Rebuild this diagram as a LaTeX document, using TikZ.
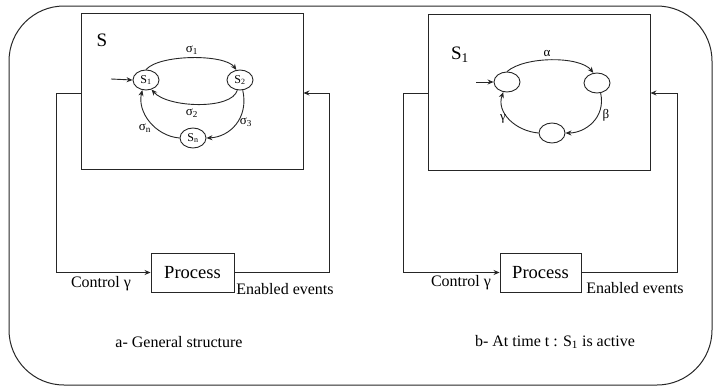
\documentclass[tikz,border=0pt]{standalone}
\usepackage{fontspec}
\setmainfont{Liberation Serif}
\usetikzlibrary{arrows.meta,shapes.geometric}
\begin{document}
\begin{tikzpicture}[x=1pt,y=-1pt,
  ln/.style={line width=0.9pt,draw=black!85},
  arr/.style={ln,-{Stealth[length=6pt,width=5pt]}},
  frame/.style={draw=black!85,line width=0.9pt,inner sep=0pt},
  st/.style={ellipse,draw=black!85,line width=0.9pt,minimum width=26pt,minimum height=20pt,inner sep=0pt,font=\fontsize{12}{12}\selectfont},
  lab/.style={inner sep=0pt,font=\fontsize{13}{13}\selectfont},
  txt/.style={inner sep=0pt,font=\fontsize{16}{16}\selectfont},
  big/.style={inner sep=0pt,font=\fontsize{19}{19}\selectfont},
  procbox/.style={frame,minimum height=39pt,font=\fontsize{18.5}{18.5}\selectfont}]
\useasboundingbox (0,0) rectangle (714,388);
\draw[line width=1pt,draw=black!85,rounded corners=55pt] (9,6) rectangle (712,385);

% ---------- left part ----------
\node[frame,minimum width=222pt,minimum height=156pt] (box1) at (192,91) {};
\node[big] (Slab) at (102,40) {S};
\node[st] (s1) at (146,80) {S\textsubscript{1}};
\node[st] (s2) at (240,80) {S\textsubscript{2}};
\node[st] (sn) at (193,138) {S\textsubscript{n}};
\coordinate (i1) at (111,79);
\draw[arr] (i1) -- (s1.west);
\draw[arr] (s1.north) .. controls (160,54) and (225,54) .. (s2.110);
\draw[arr] (s2.255) .. controls (232,110) and (168,108) .. (s1.300);
\draw[arr] (s2.285) .. controls (249,118) and (230,137) .. (sn.east);
\draw[arr] (sn.west) .. controls (155,136) and (137,112) .. (s1.250);
\node[lab] (l1) at (192,50) {σ\textsubscript{1}};
\node[lab] (l2) at (192,113) {σ\textsubscript{2}};
\node[lab] (l3) at (246,122) {σ\textsubscript{3}};
\node[lab] (ln) at (145,128) {σ\textsubscript{n}};

\node[procbox,minimum width=83pt] (p1) at (192.5,272.5) {Process};
\coordinate (c1) at (56,93);
\coordinate (e1) at (329,93);
\draw[ln] (box1.west |- c1) -- (c1);
\draw[arr] (c1) |- (p1.west);
\draw[arr] (p1.east) -| (e1) -- (box1.east |- e1);
\node[txt] (ctl1) at (101,284) {Control γ};
\node[txt] (en1) at (285,289) {Enabled events};
\node[txt] (capa) at (179,342) {a- General structure};

% ---------- right part ----------
\node[frame,minimum width=222pt,minimum height=156pt] (box2) at (539,92) {};
\node[big] (S1lab) at (460,55) {S\textsubscript{1}};
\node[st] (a) at (507,82) {};
\node[st] (b) at (597,83) {};
\node[st] (c) at (552,133) {};
\coordinate (i2) at (476,82);
\draw[arr] (i2) -- (a.west);
\draw[arr] (a.north) .. controls (525,56) and (580,56) .. (b.110);
\draw[arr] (b.290) .. controls (606,118) and (585,133) .. (c.east);
\draw[arr] (c.west) .. controls (515,131) and (496,112) .. (a.250);
\node[lab] (la) at (547,53) {α};
\node[lab] (lb) at (606,115) {β};
\node[lab] (lg) at (503,119) {γ};

\node[procbox,minimum width=81pt] (p2) at (540.5,272.5) {Process};
\coordinate (c2) at (403,93);
\coordinate (e2) at (677,93);
\draw[ln] (box2.west |- c2) -- (c2);
\draw[arr] (c2) |- (p2.west);
\draw[arr] (p2.east) -| (e2) -- (box2.east |- e2);
\node[txt] (ctl2) at (461,283) {Control γ};
\node[txt] (en2) at (635,288) {Enabled events};
\node[txt] (capb) at (555,342) {b- At time t : S\textsubscript{1} is active};
\end{tikzpicture}
\end{document}
